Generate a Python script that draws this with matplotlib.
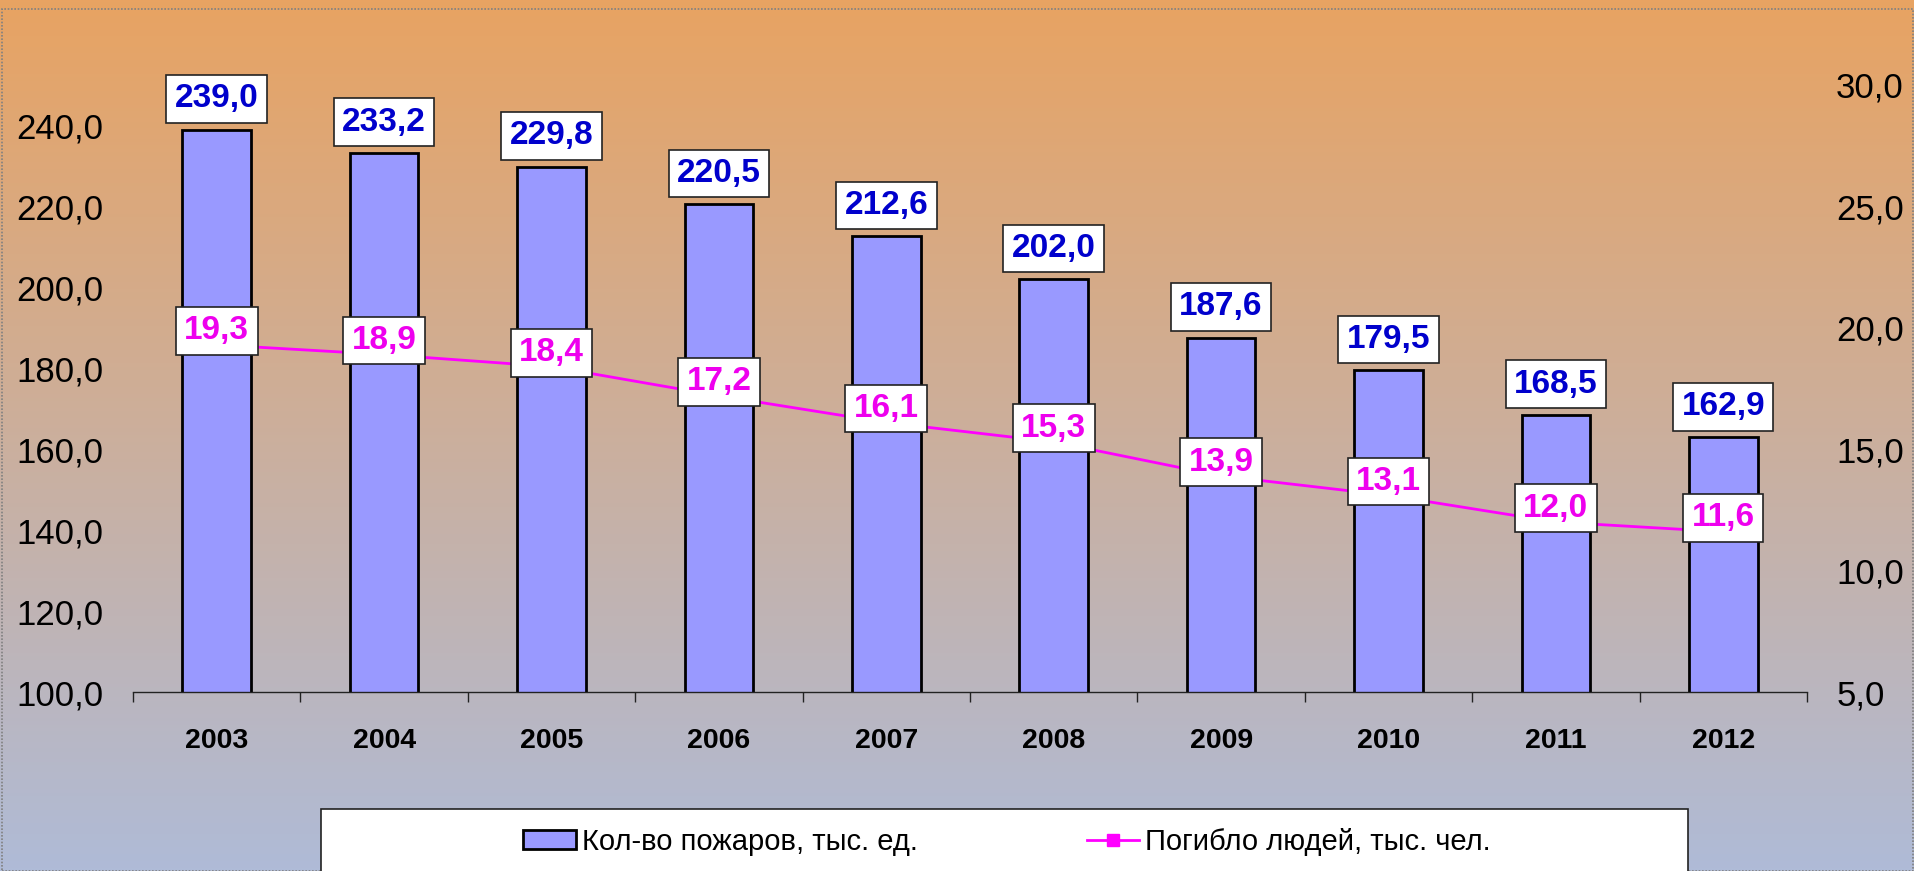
import numpy as np
import matplotlib
matplotlib.use("Agg")
import matplotlib.pyplot as plt
from matplotlib.colors import LinearSegmentedColormap
from matplotlib.patches import Rectangle, Patch
from matplotlib.lines import Line2D

years = ["2003", "2004", "2005", "2006", "2007", "2008", "2009", "2010", "2011", "2012"]
fires = [239.0, 233.2, 229.8, 220.5, 212.6, 202.0, 187.6, 179.5, 168.5, 162.9]
deaths = [19.3, 18.9, 18.4, 17.2, 16.1, 15.3, 13.9, 13.1, 12.0, 11.6]
left_ticks = [100, 120, 140, 160, 180, 200, 220, 240]
right_ticks = [5, 10, 15, 20, 25, 30]
legend_labels = ["Кол-во пожаров, тыс. ед.", "Погибло людей, тыс. чел."]

plt.rcParams["font.family"] = ["Liberation Sans", "DejaVu Sans"]

def fmt(v):
    return f"{v:.1f}".replace(".", ",")

fig = plt.figure(figsize=(19.15, 8.71), dpi=100)

# gradient background
bg = fig.add_axes([0, 0, 1, 1], zorder=-10)
cmap = LinearSegmentedColormap.from_list("bg", [(232/255, 163/255, 98/255), (175/255, 187/255, 215/255)])
bg.imshow(np.linspace(0, 1, 256).reshape(-1, 1), aspect="auto", cmap=cmap, extent=[0, 1, 0, 1])
bg.set_axis_off()
bg.add_patch(Rectangle((0.001, 0.0), 0.998, 0.99, transform=bg.transAxes, fill=False,
                       edgecolor="#808080", linestyle=(0, (1, 1)), linewidth=1.2))

ax = fig.add_axes([133/1915, 1 - 692/871, (1807-133)/1915, (692-85)/871])
ax.patch.set_alpha(0)
x = np.arange(len(years))
ax.bar(x, fires, width=0.41, bottom=0, color="#9999FF", edgecolor="black", linewidth=2, zorder=2)
ax.set_ylim(100, 250)
ax.set_xlim(-0.5, len(years) - 0.5)
ax.set_yticks(left_ticks)
ax.set_yticklabels([fmt(v) for v in left_ticks], fontsize=25)
ax.tick_params(axis="y", length=0, pad=21.5)
ax.set_xticks(x)
ax.set_xticklabels(years, fontsize=20.5, fontweight="bold")
ax.tick_params(axis="x", length=0, pad=26)
ax.set_xticks(np.arange(len(years) + 1) - 0.5, minor=True)
ax.tick_params(axis="x", which="minor", length=7, width=1, color="#222222", direction="out")
for s in ["top", "left", "right"]:
    ax.spines[s].set_visible(False)
ax.spines["bottom"].set_linewidth(1)
ax.spines["bottom"].set_color("#222222")

for xi, v in zip(x, fires):
    ax.annotate(fmt(v), (xi, v), xytext=(0, 11), textcoords="offset points",
                ha="center", va="bottom", fontsize=24, fontweight="bold", color="#0000CC",
                bbox=dict(boxstyle="square,pad=0.25", fc="white", ec="#222222", lw=1.2), zorder=5)

ax2 = ax.twinx()
ax2.set_ylim(5, 30)
ax2.set_yticks(right_ticks)
ax2.set_yticklabels([fmt(v) for v in right_ticks], fontsize=25)
ax2.tick_params(axis="y", length=0, pad=21)
for s in ax2.spines.values():
    s.set_visible(False)
ax2.plot(x, deaths, color="#FF00FF", linewidth=2, marker="s", markersize=6, zorder=3)
for xi, v in zip(x, deaths):
    ax2.annotate(fmt(v), (xi, v), xytext=(0, 10), textcoords="offset points",
                 ha="center", va="center", fontsize=24, fontweight="bold", color="#EE00EE",
                 bbox=dict(boxstyle="square,pad=0.25", fc="white", ec="#222222", lw=1.2), zorder=6)

# legend
fig.patches.append(Rectangle((321/1915, -0.05), (1688-321)/1915, 0.05 + 62/871, transform=fig.transFigure,
                             fc="white", ec="#222222", lw=1.2, zorder=1))
handles = [Patch(facecolor="#9999FF", edgecolor="black", linewidth=2),
           Line2D([0], [0], color="#FF00FF", linewidth=2, marker="s", markersize=8)]
fig.legend(handles, legend_labels,
           loc="center", bbox_to_anchor=(1007/1915, 1 - 842/871), ncol=2, frameon=False,
           fontsize=21, columnspacing=5.8, handlelength=1.8, handleheight=0.6, handletextpad=0.2)

fig.savefig("out.png", dpi=100)
